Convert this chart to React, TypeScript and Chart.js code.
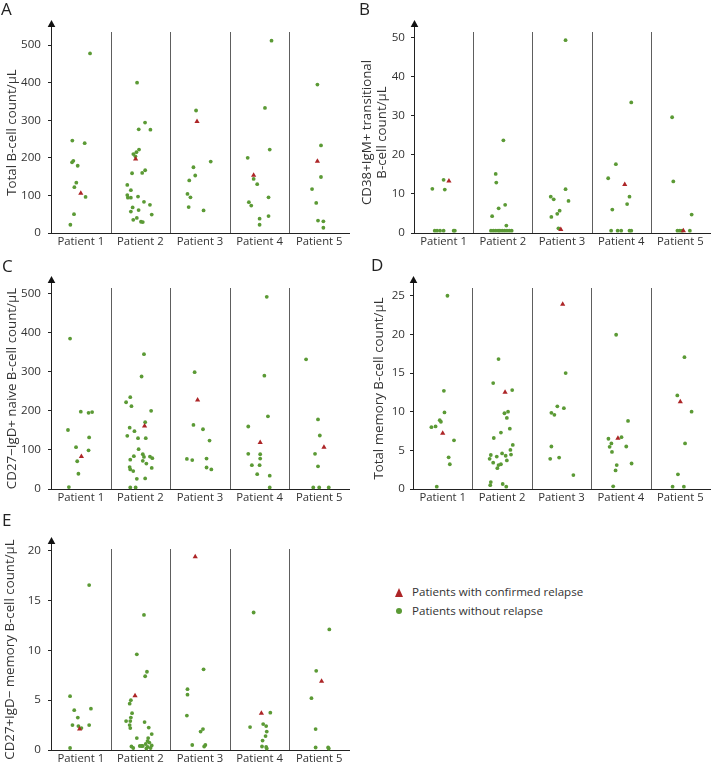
import React, { useEffect, useRef } from 'react';
import { Chart, registerables } from 'chart.js';
Chart.register(...registerables);

const patientLabels = ['Patient 1', 'Patient 2', 'Patient 3', 'Patient 4', 'Patient 5'];
const patientPositions = [1, 2, 3, 4, 5];

// Each point: [x position inside patient column (patient index + jitter), value]
// Panel A – Total B-cell count/μL
const aTicks = [0, 100, 200, 300, 400, 500];
const aGreen: [number, number][] = [
  [1.155, 478], [0.858, 246], [1.065, 239], [0.875, 192], [0.853, 188], [0.948, 179], [0.925, 134], [0.892, 122], [1.08, 96], [0.886, 50], [0.825, 22],
  [1.944, 400], [2.078, 294], [1.972, 276], [2.168, 275], [1.977, 222], [1.933, 215], [1.882, 210], [1.916, 204], [2.08, 167], [2.03, 160], [1.86, 159], [1.78, 128], [1.84, 114], [1.78, 101], [1.79, 94], [1.84, 94], [1.96, 97], [2.06, 83], [2.16, 75], [1.87, 68], [1.84, 57], [1.97, 61], [2.19, 49], [1.94, 40], [1.88, 35], [2.01, 30], [2.04, 29],
  [2.934, 326], [3.18, 190], [2.89, 175], [2.92, 153], [2.82, 140], [2.79, 104], [2.84, 95], [2.81, 69], [3.06, 60],
  [4.2, 512], [4.09, 333], [4.17, 222], [3.8, 200], [3.9, 144], [3.96, 130], [3.82, 82], [3.86, 73], [4.15, 95], [4.0, 38], [4.0, 22], [4.15, 45],
  [4.97, 395], [5.03, 233], [5.03, 149], [4.88, 117], [4.95, 80], [4.98, 33], [5.07, 31], [5.07, 14],
];
const aRed: [number, number][] = [[1.0, 106], [1.92, 197], [2.95, 297], [3.9, 154], [4.97, 191]];

// Panel B – CD38+IgM+ transitional B-cell count/μL
const bTicks = [0, 10, 20, 30, 40, 50];
const bGreen: [number, number][] = [
  [0.81, 11.3], [1.0, 13.6], [1.02, 11.1], [0.85, 0.6], [0.89, 0.6], [0.94, 0.6], [1.0, 0.6], [1.17, 0.6], [1.19, 0.6],
  [2.01, 23.7], [1.88, 15.1], [1.89, 12.9], [1.93, 6.3], [2.04, 7.2], [1.82, 4.3], [2.06, 1.9], [1.8, 0.6], [1.84, 0.6], [1.88, 0.6], [1.92, 0.6], [1.95, 0.6], [1.99, 0.6], [2.03, 0.6], [2.07, 0.6], [2.11, 0.6], [2.15, 0.6],
  [3.06, 49.3], [3.06, 11.2], [3.11, 8.2], [2.81, 9.3], [2.86, 8.6], [2.96, 5.7], [2.92, 4.9], [2.82, 4.1], [2.94, 1.2],
  [4.17, 33.4], [3.91, 17.6], [3.78, 14.0], [4.14, 9.3], [4.1, 7.4], [3.85, 6.0], [3.83, 0.6], [3.94, 0.6], [4.0, 0.6], [4.14, 0.6], [4.17, 0.6],
  [4.86, 29.6], [4.88, 13.2], [5.19, 4.7], [4.95, 0.6], [4.99, 0.6], [5.03, 0.6], [5.16, 0.6],
];
const bRed: [number, number][] = [[1.09, 13.3], [2.98, 0.9], [4.06, 12.4], [5.05, 0.6]];

// Panel C – CD27−IgD+ naive B-cell count/μL
const cTicks = [0, 100, 200, 300, 400, 500];
const cGreen: [number, number][] = [
  [0.82, 385], [0.785, 151], [1.0, 198], [1.13, 195], [1.19, 197], [1.14, 132], [0.92, 107], [1.13, 99], [0.94, 71], [0.96, 39], [0.8, 5],
  [2.06, 345], [2.02, 288], [1.83, 235], [1.76, 222], [1.85, 212], [2.18, 200], [2.08, 171], [1.82, 157], [1.9, 148], [1.78, 136], [1.96, 130], [2.09, 130], [1.97, 102], [2.04, 89], [1.89, 84], [1.83, 75], [2.16, 83], [2.2, 79], [2.06, 82], [2.04, 72], [2.1, 65], [1.82, 56], [2.19, 54], [1.83, 50], [1.88, 46], [1.94, 26], [2.08, 27], [1.83, 4], [1.92, 4],
  [2.91, 299], [2.89, 164], [3.05, 153], [3.16, 124], [2.78, 77], [2.87, 74], [3.11, 78], [3.11, 55], [3.19, 50],
  [4.12, 492], [4.08, 290], [4.14, 186], [3.81, 160], [3.81, 90], [4.01, 89], [4.01, 78], [3.87, 61], [4.0, 61], [3.96, 38], [4.17, 34], [4.17, 4],
  [4.78, 332], [4.98, 178], [5.01, 137], [4.93, 90], [4.98, 58], [4.9, 4], [5.0, 4], [5.16, 4],
];
const cRed: [number, number][] = [[1.01, 83], [2.07, 161], [2.96, 228], [4.01, 119], [5.08, 107]];

// Panel D – Total memory B-cell count/μL
const dTicks = [0, 5, 10, 15, 20, 25];
const dGreen: [number, number][] = [
  [1.08, 25.0], [1.02, 12.7], [1.03, 9.9], [0.95, 8.9], [0.97, 8.7], [0.88, 8.1], [0.81, 8.0], [1.19, 6.3], [1.1, 4.1], [1.12, 3.2], [0.9, 0.3],
  [1.94, 16.8], [1.85, 13.7], [2.17, 12.8], [2.1, 10.0], [2.04, 9.8], [2.08, 9.2], [2.13, 7.8], [1.98, 7.3], [1.86, 6.6], [2.18, 5.7], [2.14, 5.05], [2.0, 4.6], [1.81, 4.4], [2.06, 4.3], [1.91, 4.2], [2.15, 4.45], [1.79, 3.9], [1.85, 3.4], [2.08, 3.7], [1.98, 3.2], [1.94, 3.1], [1.92, 2.7], [1.81, 0.9], [1.8, 0.5], [2.01, 0.65], [2.07, 0.3],
  [3.07, 15.0], [2.93, 10.7], [3.04, 10.45], [2.83, 9.85], [2.88, 9.6], [2.83, 5.5], [2.96, 4.06], [2.81, 3.9], [3.2, 1.8],
  [3.92, 19.95], [4.12, 8.8], [4.01, 6.7], [3.79, 6.5], [3.84, 5.9], [3.81, 5.45], [4.09, 5.5], [3.85, 4.8], [3.93, 3.1], [4.18, 3.3], [3.91, 2.4], [3.87, 0.35],
  [5.07, 17.05], [4.95, 12.1], [5.19, 10.0], [5.08, 5.9], [4.96, 1.9], [4.87, 0.3], [5.06, 0.3],
];
const dRed: [number, number][] = [[1.0, 7.2], [2.05, 12.5], [3.02, 23.9], [3.95, 6.55], [5.0, 11.3]];

// Panel E – CD27+IgD− memory B-cell count/μL
const eTicks = [0, 5, 10, 15, 20];
const eGreen: [number, number][] = [
  [1.14, 16.55], [0.82, 5.4], [0.89, 4.0], [0.95, 3.25], [1.17, 4.15], [0.86, 2.5], [1.14, 2.5], [0.96, 2.4], [1.01, 2.2], [0.82, 0.2],
  [2.06, 13.55], [1.94, 9.6], [2.11, 7.85], [2.08, 7.4], [1.84, 5.0], [1.82, 4.65], [1.86, 3.7], [1.84, 3.25], [1.76, 2.9], [1.83, 2.9], [1.82, 2.5], [1.83, 2.2], [2.07, 2.8], [2.14, 2.25], [2.19, 1.6], [1.94, 1.2], [2.13, 1.2], [2.12, 0.9], [2.15, 0.75], [2.09, 0.6], [2.19, 0.45], [2.04, 0.4], [1.99, 0.4], [2.12, 0.3], [1.85, 0.35], [1.88, 0.2], [2.1, 0.15], [2.17, 0.2], [2.02, 0.4],
  [3.06, 8.1], [2.79, 6.1], [2.79, 5.55], [2.78, 3.45], [3.05, 2.1], [3.01, 1.85], [2.87, 0.5], [3.09, 0.5], [3.07, 0.35],
  [3.9, 13.8], [4.18, 3.75], [3.84, 2.3], [4.06, 2.6], [4.11, 2.4], [4.12, 1.85], [4.1, 1.4], [4.05, 0.95], [4.04, 0.35], [4.11, 0.3], [4.12, 0.15],
  [5.17, 12.1], [4.95, 7.95], [4.87, 5.2], [4.94, 2.1], [4.94, 0.25], [5.15, 0.25], [5.16, 0.15],
];
const eRed: [number, number][] = [[0.98, 2.1], [1.91, 5.45], [2.92, 19.4], [4.03, 3.7], [5.04, 6.9]];

const legendLabels = ['Patients with confirmed relapse', 'Patients without relapse'];

const GREEN = '#5b9a35';
const RED = '#ad2527';
const TEXT = '#333333';
const FONT = "'Open Sans', 'Noto Sans', sans-serif";

type PanelProps = {
  left: number; top: number; width: number; height: number;
  axisWidth: number; rightPad: number; topPad: number; xAxisHeight: number;
  yMax: number; yTicks: number[]; title: string | string[]; titlePad: number; tickPad: number;
  arrowTip: number; green: [number, number][]; red: [number, number][];
};

function Panel(p: PanelProps) {
  const ref = useRef<HTMLCanvasElement>(null);
  useEffect(() => {
    if (!ref.current) return;
    const decor = {
      id: 'decor',
      beforeDatasetsDraw(chart: any) {
        const { ctx, chartArea, scales } = chart;
        const xs = scales.x;
        ctx.save();
        ctx.lineWidth = 1;
        ctx.strokeStyle = '#5e5e5e';
        for (let k = 1; k < 5; k++) {
          const px = Math.round(xs.getPixelForValue(k + 0.5)) + 0.5;
          ctx.beginPath();
          ctx.moveTo(px, chartArea.top);
          ctx.lineTo(px, chartArea.bottom);
          ctx.stroke();
        }
        const ax = Math.round(chartArea.left) + 0.5;
        ctx.strokeStyle = '#222';
        ctx.beginPath();
        ctx.moveTo(ax, chartArea.bottom);
        ctx.lineTo(ax, p.arrowTip + 5);
        ctx.stroke();
        ctx.fillStyle = '#111';
        ctx.beginPath();
        ctx.moveTo(ax, p.arrowTip);
        ctx.lineTo(ax - 3.8, p.arrowTip + 7);
        ctx.lineTo(ax + 3.8, p.arrowTip + 7);
        ctx.closePath();
        ctx.fill();
        ctx.restore();
      },
    };
    const chart = new Chart(ref.current, {
      type: 'scatter',
      data: {
        datasets: [
          {
            label: 'relapse',
            data: p.red.map(([x, y]) => ({ x, y })),
            pointStyle: 'triangle',
            pointRadius: 3,
            pointBackgroundColor: RED,
            pointBorderWidth: 0,
            pointBorderColor: RED,
            clip: false as any,
          },
          {
            label: 'no relapse',
            data: p.green.map(([x, y]) => ({ x, y })),
            pointStyle: 'circle',
            pointRadius: 1.9,
            pointBackgroundColor: GREEN,
            pointBorderWidth: 0,
            pointBorderColor: GREEN,
            clip: false as any,
          },
        ],
      },
      options: {
        animation: false,
        responsive: false,
        events: [],
        layout: { padding: { top: p.topPad, right: p.rightPad, left: 0, bottom: 0 } },
        plugins: { legend: { display: false }, tooltip: { enabled: false } },
        scales: {
          x: {
            type: 'linear',
            min: 0.5,
            max: 5.5,
            grid: { display: false, drawTicks: false },
            border: { display: true, color: '#222', width: 1 },
            afterBuildTicks: (s: any) => { s.ticks = patientPositions.map((v) => ({ value: v })); },
            afterFit: (s: any) => { s.height = p.xAxisHeight; },
            ticks: {
              autoSkip: false,
              maxRotation: 0,
              padding: 2,
              color: TEXT,
              font: { family: FONT, size: 11.3 },
              callback: (v: any) => patientLabels[Math.round(Number(v)) - 1] ?? '',
            },
          },
          y: {
            type: 'linear',
            min: 0,
            max: p.yMax,
            grid: { display: true, drawOnChartArea: false, drawTicks: true, tickLength: 3, color: '#222' },
            border: { display: false },
            afterBuildTicks: (s: any) => { s.ticks = p.yTicks.map((v) => ({ value: v })); },
            afterFit: (s: any) => { s.width = p.axisWidth; },
            ticks: {
              padding: p.tickPad,
              color: TEXT,
              font: { family: FONT, size: 11.6 },
            },
            title: {
              display: true,
              text: p.title,
              color: TEXT,
              padding: { top: p.titlePad, bottom: 0 },
              font: { family: FONT, size: 13.3, lineHeight: 1.12 },
            },
          },
        },
      },
      plugins: [decor],
    });
    return () => chart.destroy();
  }, []);
  return (
    <canvas
      ref={ref}
      width={p.width}
      height={p.height}
      style={{ position: 'absolute', left: p.left, top: p.top, width: p.width, height: p.height }}
    />
  );
}

const letterStyle = (left: number, top: number): React.CSSProperties => ({
  position: 'absolute', left, top, fontFamily: FONT, fontSize: 17, lineHeight: '17px', color: '#222', margin: 0,
});

export default function App() {
  return (
    <div style={{ position: 'absolute', left: 0, top: 0, width: 714, height: 764, background: '#fff', overflow: 'hidden' }}>
      <Panel left={0} top={0} width={357} height={250} axisWidth={51} rightPad={8} topPad={32} xAxisHeight={17}
        yMax={535} yTicks={aTicks} title="Total B-cell count/μL" titlePad={4.5} tickPad={7} arrowTip={20} green={aGreen} red={aRed} />
      <Panel left={357} top={0} width={357} height={250} axisWidth={57} rightPad={2} topPad={32} xAxisHeight={17}
        yMax={51.4} yTicks={bTicks} title={['CD38+IgM+ transitional', 'B-cell count/μL']} titlePad={2.5} tickPad={6} arrowTip={20} green={bGreen} red={bRed} />
      <Panel left={0} top={250} width={357} height={255} axisWidth={51} rightPad={8} topPad={38} xAxisHeight={16}
        yMax={514.5} yTicks={cTicks} title="CD27−IgD+ naive B-cell count/μL" titlePad={4.5} tickPad={7} arrowTip={26} green={cGreen} red={cRed} />
      <Panel left={357} top={250} width={357} height={255} axisWidth={56} rightPad={2} topPad={38} xAxisHeight={16}
        yMax={26.0} yTicks={dTicks} title="Total memory B-cell count/μL" titlePad={15} tickPad={5} arrowTip={26} green={dGreen} red={dRed} />
      <Panel left={0} top={505} width={357} height={259} axisWidth={51} rightPad={8} topPad={44} xAxisHeight={14}
        yMax={20.17} yTicks={eTicks} title="CD27+IgD− memory B-cell count/μL" titlePad={2.5} tickPad={7} arrowTip={32} green={eGreen} red={eRed} />

      <div style={letterStyle(1, 0)}>A</div>
      <div style={letterStyle(359, 0)}>B</div>
      <div style={letterStyle(2, 257)}>C</div>
      <div style={letterStyle(371, 256)}>D</div>
      <div style={letterStyle(2, 511)}>E</div>

      <div style={{ position: 'absolute', left: 395, top: 588, width: 0, height: 0, borderLeft: '4.5px solid transparent', borderRight: '4.5px solid transparent', borderBottom: '9px solid ' + RED }} />
      <div style={{ position: 'absolute', left: 396, top: 608, width: 6, height: 6, borderRadius: 3, background: GREEN }} />
      <div style={{ position: 'absolute', left: 412, top: 584, fontFamily: FONT, fontSize: 11.6, lineHeight: '16px', color: TEXT, whiteSpace: 'nowrap' }}>{legendLabels[0]}</div>
      <div style={{ position: 'absolute', left: 412, top: 603, fontFamily: FONT, fontSize: 11.6, lineHeight: '16px', color: TEXT, whiteSpace: 'nowrap' }}>{legendLabels[1]}</div>
    </div>
  );
}
